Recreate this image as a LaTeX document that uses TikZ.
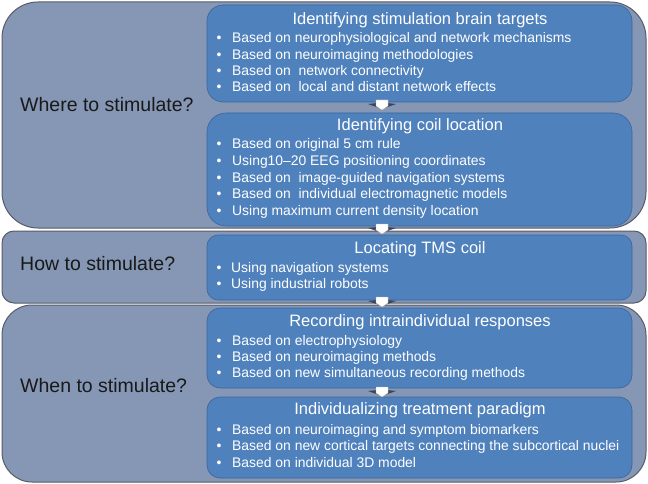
\documentclass[tikz,border=0pt]{standalone}
\usepackage{fontspec}
\setmainfont{Liberation Sans}
\definecolor{outerfill}{RGB}{133,151,181}
\definecolor{outerline}{RGB}{86,92,104}
\definecolor{innerfill}{RGB}{79,129,189}
\definecolor{innerline}{RGB}{60,100,155}
\definecolor{arrowshade}{RGB}{45,55,75}
\begin{document}
\begin{tikzpicture}[x=1pt,y=-1pt,
  outerbox/.style={draw=outerline, line width=1pt, fill=outerfill, inner sep=0pt, outer sep=0pt, anchor=north west, minimum width=644pt},
  innerbox/.style={draw=innerline, line width=0.6pt, fill=innerfill, inner sep=0pt, outer sep=0pt, anchor=north west, minimum width=425pt},
  qlabel/.style={text=black!90, font=\fontsize{19.5}{22}\selectfont, inner sep=0pt, anchor=mid west},
  ttl/.style={text=white, font=\fontsize{16.5}{19}\selectfont, inner sep=0pt, anchor=mid},
  itm/.style={text=white, font=\fontsize{13.9}{16}\selectfont, inner sep=0pt, anchor=mid west},
  dot/.style={text=white, font=\fontsize{13.9}{16}\selectfont, inner sep=0pt, anchor=mid},
  downarr/.pic={
    \fill[arrowshade, opacity=0.85] (-14pt,-4pt) -- (0pt,-2.5pt) -- (14pt,-4pt) -- (0pt,-9pt) -- cycle;
    \fill[white, draw=black!30, line width=0.3pt] (-6pt,0pt) -- (6pt,0pt) -- (6pt,-6pt) -- (0pt,-10pt) -- (-6pt,-6pt) -- cycle;
  }]
\useasboundingbox (0,0) rectangle (648,484);

% outer boxes
\node[outerbox, minimum height=226pt, rounded corners=36pt] (o1) at (2,2) {};
\node[outerbox, minimum height=72pt, rounded corners=12pt] (o2) at (2,231) {};
\node[outerbox, minimum height=177pt, rounded corners=30pt] (o3) at (2,305) {};

% inner boxes
\node[innerbox, minimum height=97pt, rounded corners=16pt] (i1a) at (207,5) {};
\node[innerbox, minimum height=113pt, rounded corners=19pt] (i1b) at (207,113) {};
\node[innerbox, minimum height=65pt, rounded corners=11pt] (i2) at (207,235) {};
\node[innerbox, minimum height=80pt, rounded corners=13pt] (i3a) at (207,308) {};
\node[innerbox, minimum height=81pt, rounded corners=13pt] (i3b) at (207,397) {};

% arrows
\coordinate (a1) at ([xshift=175pt,yshift=2pt]i1a.south west);
\coordinate (a2) at ([xshift=175pt,yshift=2pt]i1b.south west);
\coordinate (a3) at ([xshift=175pt,yshift=3pt]i2.south west);
\coordinate (a4) at ([xshift=175pt,yshift=1pt]i3a.south west);
\pic at (a1) {downarr};
\pic at (a2) {downarr};
\pic at (a3) {downarr};
\pic at (a4) {downarr};

% left labels
\node[qlabel] (q1) at (20,109) {Where to stimulate?};
\node[qlabel] (q2) at (20,268) {How to stimulate?};
\node[qlabel] (q3) at (20,390) {When to stimulate?};

% box 1a
\node[ttl] (t1a) at (420,22) {Identifying stimulation brain targets};
\node[dot] (d1a1) at (219,40) {•}; \node[itm] (b1a1) at (232,40) {Based on neurophysiological and network mechanisms};
\node[dot] (d1a2) at (219,57) {•}; \node[itm] (b1a2) at (232,57) {Based on neuroimaging methodologies};
\node[dot] (d1a3) at (219,73) {•}; \node[itm] (b1a3) at (232,73) {Based on\ \ network connectivity};
\node[dot] (d1a4) at (219,89) {•}; \node[itm] (b1a4) at (232,89) {Based on\ \ local and distant network effects};

% box 1b
\node[ttl] (t1b) at (420,128) {Identifying coil location};
\node[dot] (d1b1) at (219,146) {•}; \node[itm] (b1b1) at (232,146) {Based on original 5 cm rule};
\node[dot] (d1b2) at (219,163) {•}; \node[itm] (b1b2) at (232,163) {Using10–20 EEG positioning coordinates};
\node[dot] (d1b3) at (219,180) {•}; \node[itm] (b1b3) at (232,180) {Based on\ \ image-guided navigation systems};
\node[dot] (d1b4) at (219,196) {•}; \node[itm] (b1b4) at (232,196) {Based on\ \ individual electromagnetic models};
\node[dot] (d1b5) at (219,213) {•}; \node[itm] (b1b5) at (232,213) {Using maximum current density location};

% box 2
\node[ttl] (t2) at (420,251) {Locating TMS coil};
\node[dot] (d21) at (219,270) {•}; \node[itm] (b21) at (231,270) {Using navigation systems};
\node[dot] (d22) at (219,286) {•}; \node[itm] (b22) at (231,286) {Using industrial robots};

% box 3a
\node[ttl] (t3a) at (420,324) {Recording intraindividual responses};
\node[dot] (d3a1) at (219,343) {•}; \node[itm] (b3a1) at (232,343) {Based on electrophysiology};
\node[dot] (d3a2) at (219,359) {•}; \node[itm] (b3a2) at (232,359) {Based on neuroimaging methods};
\node[dot] (d3a3) at (219,375) {•}; \node[itm] (b3a3) at (232,375) {Based on new simultaneous recording methods};

% box 3b
\node[ttl] (t3b) at (420,412) {Individualizing treatment paradigm};
\node[dot] (d3b1) at (219,432) {•}; \node[itm] (b3b1) at (232,432) {Based on neuroimaging and symptom biomarkers};
\node[dot] (d3b2) at (219,448) {•}; \node[itm] (b3b2) at (232,448) {Based on new cortical targets connecting the subcortical nuclei};
\node[dot] (d3b3) at (219,465) {•}; \node[itm] (b3b3) at (232,465) {Based on individual 3D model};
\end{tikzpicture}
\end{document}
